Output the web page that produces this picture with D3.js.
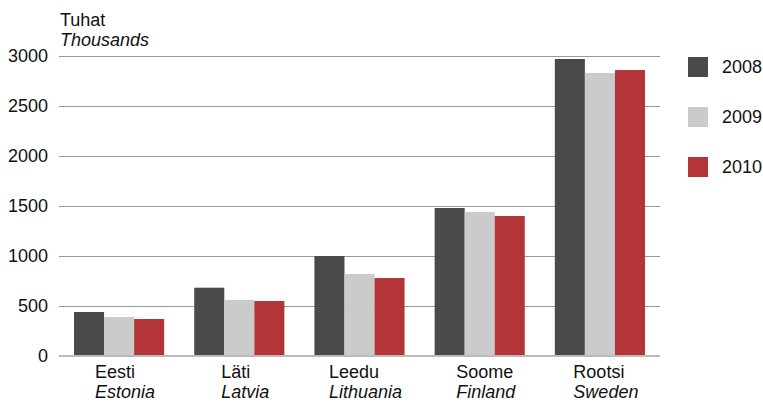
<!DOCTYPE html>
<html>
<head>
<meta charset="utf-8">
<script src="https://cdn.jsdelivr.net/npm/d3@7"></script>
<style>
  body { margin: 0; background: #fff; }
  text { font-family: "Liberation Sans", Arial, sans-serif; fill: #111; }
</style>
</head>
<body>
<div id="chart"></div>
<script>
// data
var countries = ["Eesti", "Läti", "Leedu", "Soome", "Rootsi"];
var countriesEn = ["Estonia", "Latvia", "Lithuania", "Finland", "Sweden"];
var years = ["2008", "2009", "2010"];
var v2008 = [440, 683, 1000, 1480, 2970];
var v2009 = [390, 560, 820, 1440, 2830];
var v2010 = [370, 550, 780, 1400, 2860];
var yTicks = [0, 500, 1000, 1500, 2000, 2500, 3000];

var series = [v2008, v2009, v2010];
var colors = ["#4a4a4a", "#cbcbcb", "#b33538"];

var width = 763, height = 403;
var margin = { top: 56, right: 103, bottom: 47, left: 59 };
var w = width - margin.left - margin.right;
var h = height - margin.top - margin.bottom;

var svg = d3.select("#chart").append("svg")
  .attr("width", width)
  .attr("height", height);

var g = svg.append("g")
  .attr("transform", "translate(" + margin.left + "," + margin.top + ")");

var x0 = d3.scaleBand().domain(countries).range([0, w])
  .paddingInner(0.25).paddingOuter(0.125);
var x1 = d3.scaleBand().domain(years).range([0, x0.bandwidth()]);
var y = d3.scaleLinear().domain([0, 3000]).range([h, 0]);

// gridlines
g.selectAll(".grid")
  .data(yTicks.filter(function (d) { return d > 0; }))
  .enter().append("line")
  .attr("x1", 0).attr("x2", w)
  .attr("y1", function (d) { return y(d) + 0.5; })
  .attr("y2", function (d) { return y(d) + 0.5; })
  .attr("stroke", "#999").attr("stroke-width", 1);

// bars
var rows = countries.map(function (c, i) {
  return { country: c, vals: series.map(function (s, j) { return { year: years[j], v: s[i], c: colors[j] }; }) };
});

var grp = g.selectAll(".grp").data(rows).enter().append("g")
  .attr("transform", function (d) { return "translate(" + x0(d.country) + ",0)"; });

grp.selectAll("rect").data(function (d) { return d.vals; })
  .enter().append("rect")
  .attr("x", function (d) { return x1(d.year); })
  .attr("width", x1.bandwidth())
  .attr("y", function (d) { return y(d.v); })
  .attr("height", function (d) { return h - y(d.v); })
  .attr("fill", function (d) { return d.c; });

// zero line
g.append("line")
  .attr("x1", 0).attr("x2", w)
  .attr("y1", y(0)).attr("y2", y(0))
  .attr("stroke", "#bbb").attr("stroke-width", 2);

// y tick labels
g.selectAll(".ytl").data(yTicks).enter().append("text")
  .attr("x", -11)
  .attr("y", function (d) { return y(d); })
  .attr("dy", "0.35em")
  .attr("text-anchor", "end")
  .style("font-size", "18px")
  .text(function (d) { return d; });

// axis title
svg.append("text").attr("x", 60).attr("y", 26)
  .style("font-size", "18px").text("Tuhat");
svg.append("text").attr("x", 60).attr("y", 45.5)
  .style("font-size", "18px").style("font-style", "italic").text("Thousands");

// x labels
var xl = g.selectAll(".xl").data(countries).enter().append("g");
xl.each(function (d, i) {
  var sel = d3.select(this);
  var t2 = sel.append("text")
    .attr("y", h + 41.5)
    .style("font-size", "18px").style("font-style", "italic")
    .text(countriesEn[i]);
  var t1 = sel.append("text")
    .attr("y", h + 22)
    .style("font-size", "18px")
    .text(d);
  var mw = Math.max(t1.node().getComputedTextLength(), t2.node().getComputedTextLength());
  var sx = x0(d) + x0.bandwidth() / 2 - mw / 2 + 6;
  t1.attr("x", sx);
  t2.attr("x", sx);
});

// legend
var leg = svg.selectAll(".leg").data(years).enter().append("g")
  .attr("transform", function (d, i) { return "translate(688," + (57 + i * 50) + ")"; });
leg.append("rect").attr("width", 20).attr("height", 20)
  .attr("fill", function (d, i) { return colors[i]; });
leg.append("text").attr("x", 34).attr("y", 10).attr("dy", "0.35em")
  .style("font-size", "18px").text(function (d) { return d; });
</script>
</body>
</html>
